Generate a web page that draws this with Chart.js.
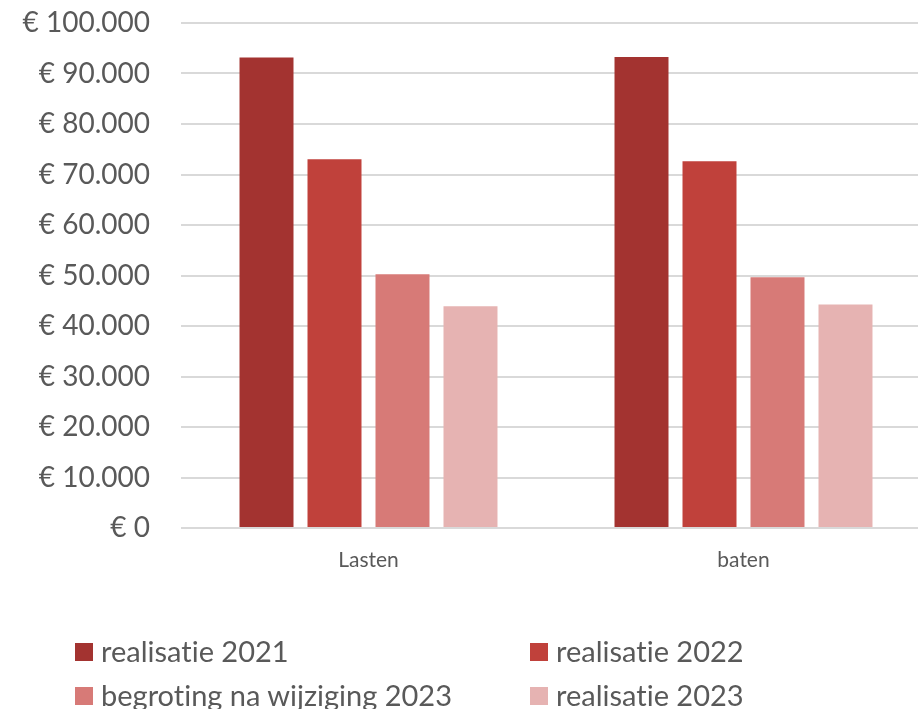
<!DOCTYPE html>
<html>
<head>
<meta charset="utf-8">
<script src="https://cdn.jsdelivr.net/npm/chart.js@4/dist/chart.umd.min.js"></script>
<style>
  html, body { margin: 0; padding: 0; background: #ffffff; overflow: hidden; width: 918px; height: 709px; }
  #wrap { position: absolute; left: 0; top: 0; width: 932px; height: 600px; }
  #legend { position: absolute; left: 0; top: 0; width: 918px; height: 709px; pointer-events: none; font-family: Lato, sans-serif; color: #595959; font-variant-ligatures: none; }
  .item { position: absolute; height: 30px; }
  .sw { position: absolute; left: 0; width: 18px; height: 18px; }
  .lbl { position: absolute; white-space: nowrap; font-size: 29px; line-height: 1; font-variant-ligatures: none; font-feature-settings: "liga" 0; }
</style>
</head>
<body>
<div id="wrap"><canvas id="c"></canvas></div>
<div id="legend"></div>
<script>
// ---- data ----
const categories = ['Lasten', 'baten'];
const seriesNames = ['realisatie 2021', 'realisatie 2022', 'begroting na wijziging 2023', 'realisatie 2023'];
const realisatie2021 = [93150, 93270];
const realisatie2022 = [73000, 72600];
const begroting2023  = [50250, 49650];
const realisatie2023 = [43900, 44250];
const yTicks = [0, 10000, 20000, 30000, 40000, 50000, 60000, 70000, 80000, 90000, 100000];

const colors = ['#A33330', '#C0413B', '#D77A77', '#E6B3B2'];
const seriesValues = [realisatie2021, realisatie2022, begroting2023, realisatie2023];

function euro(v) {
  const s = String(Math.round(v)).replace(/\B(?=(\d{3})+(?!\d))/g, '.');
  return '€ ' + s;
}

const datasets = seriesNames.map((name, i) => ({
  label: name,
  data: seriesValues[i],
  backgroundColor: colors[i],
  borderWidth: 0,
  categoryPercentage: 0.7253,
  barPercentage: 0.794
}));

new Chart(document.getElementById('c'), {
  type: 'bar',
  data: { labels: categories, datasets: datasets },
  options: {
    responsive: true,
    maintainAspectRatio: false,
    animation: false,
    layout: { padding: { top: 23, left: 0, right: 1, bottom: 0 } },
    plugins: { legend: { display: false }, tooltip: { enabled: false } },
    scales: {
      x: {
        grid: { display: false, drawTicks: false },
        border: { display: false },
        ticks: { color: '#595959', font: { family: 'Lato', size: 21 }, padding: 20 },
        afterFit: (s) => { s.height = 72; s.paddingLeft = 0; s.paddingRight = 0; }
      },
      y: {
        min: 0,
        max: 100000,
        afterBuildTicks: (s) => { s.ticks = yTicks.map(v => ({ value: v })); },
        grid: { color: '#D9D9D9', lineWidth: 2, drawTicks: false },
        border: { display: false },
        ticks: {
          color: '#595959',
          font: { family: 'Lato', size: 28 },
          padding: 31,
          callback: (v) => euro(v)
        },
        afterFit: (s) => { s.width = 181; s.paddingTop = 0; s.paddingBottom = 0; }
      }
    }
  }
});

// ---- HTML legend (two columns) ----
const legend = document.getElementById('legend');
const colLeft = [75, 530];
const rowTop = [643, 687];
seriesNames.forEach((name, i) => {
  const col = i % 2, row = Math.floor(i / 2);
  const it = document.createElement('div');
  it.className = 'item';
  it.style.left = colLeft[col] + 'px';
  it.style.top = rowTop[row] + 'px';
  const sw = document.createElement('div');
  sw.className = 'sw';
  sw.style.background = colors[i];
  sw.style.top = '0px';
  const lb = document.createElement('div');
  lb.className = 'lbl';
  lb.textContent = name;
  lb.style.left = '26px';
  lb.style.top = '-7px';
  it.appendChild(sw);
  it.appendChild(lb);
  legend.appendChild(it);
});
</script>
</body>
</html>
